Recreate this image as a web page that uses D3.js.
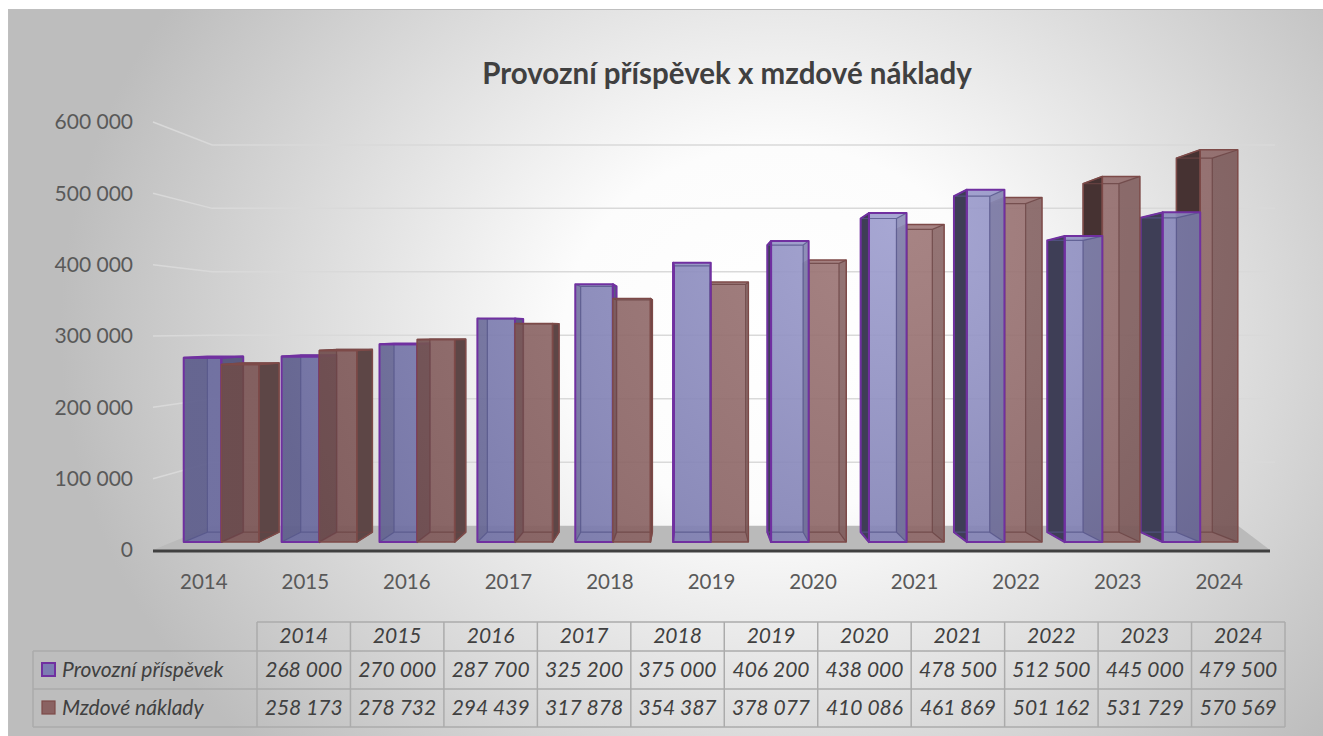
<!DOCTYPE html>
<html lang="cs">
<head>
<meta charset="UTF-8">
<title>Provozní příspěvek x mzdové náklady</title>
<script src="https://d3js.org/d3.v7.min.js"></script>
<style>
  html, body { margin: 0; padding: 0; background: #fff; }
  svg { display: block; font-family: Lato, "Open Sans", sans-serif; }
</style>
</head>
<body>
<svg width="1323" height="736"></svg>
<script>
// data
const years = ["2014", "2015", "2016", "2017", "2018", "2019", "2020", "2021", "2022", "2023", "2024"];
const provozni = [268000, 270000, 287700, 325200, 375000, 406200, 438000, 478500, 512500, 445000, 479500];
const mzdove = [258173, 278732, 294439, 317878, 354387, 378077, 410086, 461869, 501162, 531729, 570569];
const seriesNames = ["Provozní příspěvek", "Mzdové náklady"];
const yTicks = [0, 100000, 200000, 300000, 400000, 500000, 600000];
const title = "Provozní příspěvek x mzdové náklady";

const svg = d3.select("svg");
const defs = svg.append("defs");
const fmt = v => d3.format(",")(v).replace(/,/g, " ");

// chart area background (grey edges, white middle)
const bg = defs.append("radialGradient").attr("id", "bg")
    .attr("gradientUnits", "userSpaceOnUse")
    .attr("cx", 780).attr("cy", 330).attr("r", 720)
    .attr("gradientTransform", "translate(780,330) scale(1,0.85) translate(-780,-330)");
bg.append("stop").attr("offset", 0).attr("stop-color", "#ffffff");
bg.append("stop").attr("offset", 0.3).attr("stop-color", "#fcfcfc");
bg.append("stop").attr("offset", 1).attr("stop-color", "#bdbdbd");

svg.append("rect")
    .attr("x", 8.5).attr("y", 9.5).attr("width", 1340).attr("height", 740)
    .attr("fill", "url(#bg)").attr("stroke", "#bfbfbf");

svg.append("text")
    .attr("x", 727).attr("y", 84)
    .attr("text-anchor", "middle")
    .attr("font-size", 29.5).attr("font-weight", "bold")
    .attr("fill", "#404040")
    .text(title);

// front-plane scales, perspective towards a vanishing point
const x = d3.scaleBand().domain(years).range([153, 1270]);
const y = d3.scaleLinear().domain([0, 600000]).range([550, 122]);
const VP = [691, 330];
const T_FRONT = 0.036, T_BACK = 0.081, T_WALL = 0.11;
const barW = 39;
const proj = (px, py, t) => [px + (VP[0] - px) * t, py + (VP[1] - py) * t];
const poly = pts => "M" + pts.map(p => p.join(",")).join("L") + "Z";

// gridlines on left wall + back wall
const x0 = x.range()[0], x1 = x.range()[1];
const grid = svg.append("g").attr("fill", "none").attr("stroke", "#d9d9d9").attr("stroke-width", 1.5);
yTicks.filter(v => v > 0).forEach(v => {
    const a = [x0, y(v)];
    const b = proj(a[0], a[1], T_WALL);
    grid.append("path").attr("d", d3.line()([a, b, [x1 + 5, b[1]]]));
});

// floor
const backLeft = proj(x0, y(0), T_WALL);
svg.append("path")
    .attr("d", poly([[x0, y(0)], [x1, y(0)], [x1 - 32, backLeft[1]], backLeft]))
    .attr("fill", "#bababa");
svg.append("line")
    .attr("x1", x0).attr("x2", x1).attr("y1", y(0) + 1).attr("y2", y(0) + 1)
    .attr("stroke", "#404040").attr("stroke-width", 3);

// axes
const yAxis = svg.append("g").attr("transform", `translate(${x0},0)`)
    .call(d3.axisLeft(y).tickValues(yTicks).tickSize(0).tickPadding(20).tickFormat(fmt))
    .attr("font-family", null);
yAxis.select(".domain").remove();
yAxis.selectAll("text").attr("font-size", 21).attr("fill", "#595959");

const xAxis = svg.append("g").attr("transform", `translate(0,${y(0)})`)
    .call(d3.axisBottom(x).tickSize(0).tickPadding(24))
    .attr("font-family", null);
xAxis.select(".domain").remove();
xAxis.selectAll("text").attr("font-size", 20.5).attr("fill", "#595959");

// bar styles
const styles = [
    { c0: "#a0a0d0", c1: "#6a6a9e", sideL: "#5a5a80", sideR: "#3e3e56", top: "#8a8abc",
      stroke: "#7030a0", sw: 2, inner: "#55558a" },
    { c0: "#a07a7a", c1: "#7c5656", sideL: "#5d4646", sideR: "#463232", top: "#987272",
      stroke: "#7d4a48", sw: 1.5, inner: "#6a4444" }
];
styles.forEach((st, i) => {
    const gr = defs.append("radialGradient").attr("id", "bar" + i)
        .attr("gradientUnits", "userSpaceOnUse")
        .attr("cx", 900).attr("cy", 220).attr("r", 650);
    gr.append("stop").attr("offset", 0).attr("stop-color", st.c0);
    gr.append("stop").attr("offset", 1).attr("stop-color", st.c1);
});

const bars = [];
years.forEach((yr, i) => {
    [provozni[i], mzdove[i]].forEach((v, s) => {
        const bx = x(yr) + x.bandwidth() / 2 - (s === 0 ? barW : 0);
        bars.push({ yr, s, v, x0: bx, x1: bx + barW });
    });
});
// paint far-from-centre first
bars.sort((a, b) => Math.abs((b.x0 + b.x1) / 2 - VP[0]) - Math.abs((a.x0 + a.x1) / 2 - VP[0]));

const barLayer = svg.append("g");
bars.forEach(d => {
    const st = styles[d.s];
    const yt = y(d.v), yb = y(0);
    const box = t => ({ tl: proj(d.x0, yt, t), tr: proj(d.x1, yt, t), br: proj(d.x1, yb, t), bl: proj(d.x0, yb, t) });
    const F = box(T_FRONT), B = box(T_BACK);
    const leftOfVp = (d.x0 + d.x1) / 2 < VP[0];
    const side = leftOfVp ? [F.tr, B.tr, B.br, F.br] : [F.tl, B.tl, B.bl, F.bl];
    const hidden = leftOfVp ? [F.tl, B.tl, B.bl, F.bl] : [F.tr, B.tr, B.br, F.br];
    const topVisible = F.tl[1] > B.tl[1];
    const g = barLayer.append("g");

    g.append("path").attr("d", poly(side)).attr("fill", leftOfVp ? st.sideL : st.sideR);
    if (topVisible) g.append("path").attr("d", poly([F.tl, F.tr, B.tr, B.tl])).attr("fill", st.top);
    g.append("path").attr("d", poly([F.tl, F.tr, F.br, F.bl]))
        .attr("fill", `url(#bar${d.s})`).attr("fill-opacity", 0.92);
    g.append("path").attr("d", poly(hidden)).attr("fill", "#000").attr("fill-opacity", 0.1);

    const inner = poly([B.tl, B.tr, B.br, B.bl]) +
        ["tl", "tr", "br", "bl"].map(k => `M${F[k].join(",")}L${B[k].join(",")}`).join("");
    g.append("path").attr("d", inner).attr("fill", "none")
        .attr("stroke", st.inner).attr("stroke-width", 1.2).attr("stroke-opacity", 0.8);

    g.append("path").attr("d", poly(side)).attr("fill", "none")
        .attr("stroke", st.stroke).attr("stroke-width", st.sw).attr("stroke-linejoin", "round");
    if (topVisible) g.append("path").attr("d", poly([F.tl, F.tr, B.tr, B.tl])).attr("fill", "none")
        .attr("stroke", st.stroke).attr("stroke-width", st.sw);
    g.append("path").attr("d", poly([F.tl, F.tr, F.br, F.bl])).attr("fill", "none")
        .attr("stroke", st.stroke).attr("stroke-width", st.sw).attr("stroke-linejoin", "round");
});

// data table
const tx = d3.scaleBand().domain(years).range([257, 1285]);
const rowY = [622, 651, 689, 727];
const labelLeft = 33;
const table = svg.append("g");
const tl = table.append("g").attr("stroke", "#ababab").attr("stroke-width", 1.5);
tl.append("line").attr("x1", tx.range()[0]).attr("x2", tx.range()[1]).attr("y1", rowY[0]).attr("y2", rowY[0]);
rowY.slice(1).forEach(ry => tl.append("line").attr("x1", labelLeft).attr("x2", tx.range()[1]).attr("y1", ry).attr("y2", ry));
tl.append("line").attr("x1", labelLeft).attr("x2", labelLeft).attr("y1", rowY[1]).attr("y2", rowY[3]);
years.forEach(yr => tl.append("line").attr("x1", tx(yr)).attr("x2", tx(yr)).attr("y1", rowY[0]).attr("y2", rowY[3]));
tl.append("line").attr("x1", tx.range()[1]).attr("x2", tx.range()[1]).attr("y1", rowY[0]).attr("y2", rowY[3]);

const cellText = (g, tx_, ty, s) => g.append("text")
    .attr("x", tx_).attr("y", ty)
    .attr("font-size", 21).attr("font-style", "italic").attr("fill", "#404040")
    .text(s);

const textRows = [
    { ty: 643, vals: years },
    { ty: 677, vals: provozni.map(fmt) },
    { ty: 715, vals: mzdove.map(fmt) }
];
textRows.forEach(r => {
    r.vals.forEach((s, i) => cellText(table, tx(years[i]) + tx.bandwidth() / 2, r.ty, s).attr("text-anchor", "middle"));
});

seriesNames.forEach((name, s) => {
    const ry = rowY[s + 1];
    table.append("rect")
        .attr("x", 42).attr("y", ry + 12).attr("width", 13).attr("height", 13)
        .attr("fill", s === 0 ? "#7c7cb2" : "#8a6262")
        .attr("stroke", styles[s].stroke).attr("stroke-width", s === 0 ? 2 : 1.2);
    cellText(table, 62, textRows[s + 1].ty, name);
});
</script>
</body>
</html>
